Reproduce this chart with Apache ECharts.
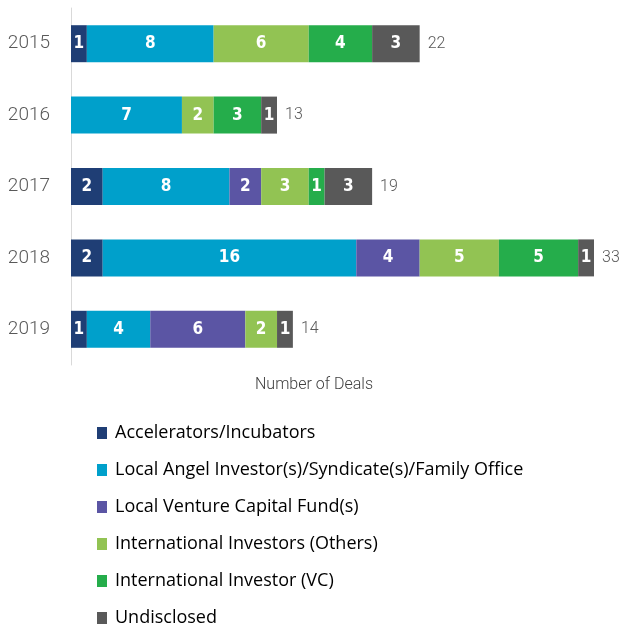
<!DOCTYPE html>
<html>
<head>
<meta charset="utf-8">
<script src="https://cdn.jsdelivr.net/npm/echarts@6/dist/echarts.min.js"></script>
<style>
    html, body { margin: 0; padding: 0; background: #fff; }
    #chart { width: 620px; height: 630px; }
</style>
</head>
<body>
<div id="chart"></div>
<script>
    var years = ['2015', '2016', '2017', '2018', '2019']
    var seriesNames = [
        'Accelerators/Incubators',
        'Local Angel Investor(s)/Syndicate(s)/Family Office',
        'Local Venture Capital Fund(s)',
        'International Investors (Others)',
        'International Investor (VC)',
        'Undisclosed'
    ]
    var accelerators = [1, null, 2, 2, 1]
    var localAngel = [8, 7, 8, 16, 4]
    var localVC = [null, null, 2, 4, 6]
    var intlOthers = [6, 2, 3, 5, 2]
    var intlVC = [4, 3, 1, 5, null]
    var undisclosed = [3, 1, 3, 1, 1]
    var totals = [22, 13, 19, 33, 14]
    var colors = ['#1f3e75', '#00a0cb', '#5b55a4', '#92c353', '#25ad4b', '#595959']

    var values = [accelerators, localAngel, localVC, intlOthers, intlVC, undisclosed]

    var series = []
    for (var i = 0; i < values.length; i++) {
        series.push({
            name: seriesNames[i],
            type: 'bar',
            stack: 'deals',
            barWidth: 37,
            data: values[i],
            itemStyle: { color: colors[i] },
            label: {
                show: true,
                position: 'inside',
                color: '#fff',
                fontWeight: 'bold',
                fontSize: 17,
                fontFamily: 'DejaVu Sans Condensed'
            }
        })
    }
    // totals, drawn behind the stack
    series.push({
        name: 'Total',
        type: 'bar',
        barWidth: 37,
        barGap: '-100%',
        z: 1,
        data: totals,
        itemStyle: { color: 'rgba(0,0,0,0)' },
        label: {
            show: true,
            position: 'right',
            distance: 8,
            color: '#595959',
            fontSize: 16,
            fontFamily: 'Roboto',
            fontWeight: 300
        },
        emphasis: { disabled: true }
    })

    var myChart = echarts.init(document.getElementById('chart'))
    var option = {
        animation: false,
        grid: { left: 71, top: 8, width: 523, height: 357 },
        xAxis: {
            type: 'value',
            min: 0,
            max: 33,
            axisLine: { show: false },
            axisTick: { show: false },
            axisLabel: { show: false },
            splitLine: { show: false }
        },
        yAxis: {
            type: 'category',
            inverse: true,
            data: years,
            axisLine: { show: true, lineStyle: { color: '#d9d9d9' } },
            axisTick: { show: false },
            axisLabel: {
                margin: 21,
                color: '#595959',
                fontSize: 19,
                fontFamily: 'Roboto',
                fontWeight: 300
            }
        },
        graphic: [{
            type: 'text',
            left: 255,
            top: 377,
            style: {
                text: 'Number of Deals',
                fill: '#404040',
                fontSize: 16,
                fontFamily: 'Roboto',
                fontWeight: 300
            }
        }],
        legend: {
            data: seriesNames,
            orient: 'vertical',
            left: 92,
            top: 419,
            height: 220,
            itemWidth: 10,
            itemHeight: 12,
            itemGap: 19,
            icon: 'rect',
            selectedMode: false,
            textStyle: {
                color: '#000',
                fontSize: 18,
                fontFamily: 'Open Sans',
                padding: [0, 0, 0, 3]
            }
        },
        series: series
    }
    myChart.setOption(option)
</script>
</body>
</html>
